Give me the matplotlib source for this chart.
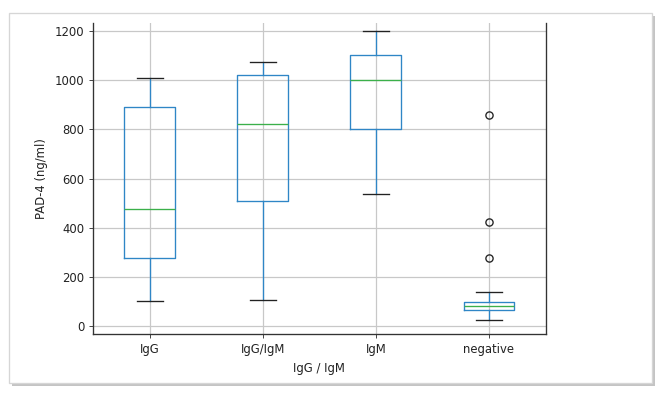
import matplotlib
matplotlib.use("Agg")
import matplotlib.pyplot as plt
from matplotlib.patches import Rectangle

categories = ["IgG", "IgG/IgM", "IgM", "negative"]
whislo = [100, 105, 536, 24]
q1 = [276, 509, 801, 64]
med = [477, 821, 1001, 82]
q3 = [890, 1020, 1102, 96]
whishi = [1008, 1073, 1199, 137]
fliers = [[], [], [], [858, 422, 275]]

W, H, DPI = 669, 393, 80
plt.rcParams["font.size"] = 10.5
fig = plt.figure(figsize=(W / DPI, H / DPI), dpi=DPI)
fig.patch.set_facecolor("white")

def px(x, y):
    return x / W, 1 - y / H

x0, y0 = px(9, 383)
x1, y1 = px(652, 13)
shadow = Rectangle((x0 + 2.5 / W, y0 - 2.5 / H), x1 - x0, y1 - y0, transform=fig.transFigure,
                   facecolor="#c4c4c4", edgecolor="none", zorder=0)
frame = Rectangle((x0, y0), x1 - x0, y1 - y0, transform=fig.transFigure,
                  facecolor="white", edgecolor="#d6d6d6", linewidth=1.2, zorder=0.5)
fig.patches.extend([shadow, frame])

ax = fig.add_axes([93.3 / W, 1 - 334.3 / H, (545.5 - 93.3) / W, (334.3 - 23) / H])
ax.set_zorder(2)

stats = []
for i, c in enumerate(categories):
    stats.append(dict(label=c, whislo=whislo[i], q1=q1[i], med=med[i], q3=q3[i],
                      whishi=whishi[i], fliers=fliers[i]))

ax.bxp(stats, positions=[1, 2, 3, 4], widths=0.45,
       boxprops=dict(color="#2f86c6", linewidth=1.2),
       whiskerprops=dict(color="#2f86c6", linewidth=1.2),
       medianprops=dict(color="#3bb04a", linewidth=1.2),
       capprops=dict(color="#222222", linewidth=1.2),
       flierprops=dict(marker="o", markerfacecolor="none", markeredgecolor="#222222",
                       markersize=6.5, markeredgewidth=1.2))

ax.set_xlim(0.5, 4.5)
ax.set_ylim(-34, 1233)
ax.set_yticks([0, 200, 400, 600, 800, 1000, 1200])
ax.grid(True, color="#c8c8c8", linewidth=1.1)
ax.set_axisbelow(True)
ax.spines["top"].set_visible(False)
for s in ["left", "right", "bottom"]:
    ax.spines[s].set_color("#333333")
    ax.spines[s].set_linewidth(1.2)
ax.tick_params(colors="#333333", labelcolor="#222222", pad=4.5)
ax.set_xlabel("IgG / IgM", color="#222222", labelpad=5)
ax.set_ylabel("PAD-4 (ng/ml)", color="#222222", labelpad=6)

fig.savefig("out.png", dpi=DPI)
